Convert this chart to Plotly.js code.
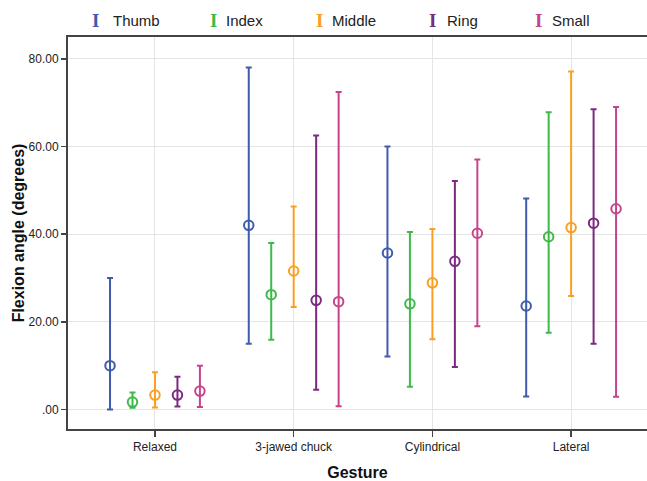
<!DOCTYPE html>
<html>
<head>
<meta charset="utf-8">
<script src="https://cdn.plot.ly/plotly-3.0.1.min.js"></script>
<style>html,body{margin:0;padding:0;background:#fff;}#chart{width:647px;height:481px;}</style>
</head>
<body>
<div id="chart"></div>
<script>
// Categories (gestures) and series (fingers)
const gestures = ['Relaxed', '3-jawed chuck', 'Cylindrical', 'Lateral'];
const fingers = ['Thumb', 'Index', 'Middle', 'Ring', 'Small'];

// Mean flexion angle per finger, per gesture
const thumbMean  = [10.0, 42.0, 35.7, 23.6];
const indexMean  = [1.7, 26.2, 24.1, 39.4];
const middleMean = [3.3, 31.6, 28.9, 41.5];
const ringMean   = [3.3, 24.9, 33.8, 42.5];
const smallMean  = [4.2, 24.6, 40.2, 45.8];

// Lower ends of the error bars
const thumbLow  = [0.0, 15.0, 12.1, 3.0];
const indexLow  = [0.4, 15.9, 5.2, 17.5];
const middleLow = [0.45, 23.4, 16.0, 25.9];
const ringLow   = [0.7, 4.5, 9.7, 15.0];
const smallLow  = [0.6, 0.75, 19.0, 2.9];

// Upper ends of the error bars
const thumbHigh  = [30.0, 78.0, 60.0, 48.1];
const indexHigh  = [3.9, 38.0, 40.5, 67.8];
const middleHigh = [8.5, 46.3, 41.2, 77.1];
const ringHigh   = [7.5, 62.5, 52.1, 68.5];
const smallHigh  = [10.0, 72.4, 57.0, 69.0];

// Y tick labels
const yTickVals = [0, 20, 40, 60, 80];
const yTickLabels = ['.00', '20.00', '40.00', '60.00', '80.00'];

const means = [thumbMean, indexMean, middleMean, ringMean, smallMean];
const lows = [thumbLow, indexLow, middleLow, ringLow, smallLow];
const highs = [thumbHigh, indexHigh, middleHigh, ringHigh, smallHigh];
const colors = ['#3f5bae', '#3dba49', '#fa9f24', '#7a2a82', '#c6448c'];
const step = 0.162;

const traces = fingers.map((f, i) => {
  const m = means[i];
  return {
    type: 'scatter',
    mode: 'markers',
    name: f,
    showlegend: false,
    x: gestures.map((g, j) => j + (i - 2) * step),
    y: m,
    marker: {symbol: 'circle-open', size: 9.5, color: colors[i], line: {width: 2, color: colors[i]}},
    error_y: {
      type: 'data', symmetric: false,
      array: m.map((v, j) => highs[i][j] - v),
      arrayminus: m.map((v, j) => v - lows[i][j]),
      color: colors[i], thickness: 2, width: 3
    },
    hoverinfo: 'x+y'
  };
});

// Legend drawn as text annotations (I-beam glyph + label)
const W = 647, L = 68;
const legendSym = [95, 213, 319, 433, 538];
const legendTxt = [111, 224, 330, 445, 550];
const annotations = [];
fingers.forEach((f, i) => {
  annotations.push({
    xref: 'paper', yref: 'paper', x: (legendSym[i] - L) / (W - L), y: 1.042, yanchor: 'middle',
    xanchor: 'center', showarrow: false, text: '<b>I</b>',
    font: {family: 'Liberation Serif', size: 19, color: colors[i]}
  });
  annotations.push({
    xref: 'paper', yref: 'paper', x: (legendTxt[i] - L) / (W - L), y: 1.041, yanchor: 'middle',
    xanchor: 'left', showarrow: false, text: f,
    font: {family: 'Liberation Sans, Arial', size: 15, color: '#222'}
  });
});

const layout = {
  width: 647, height: 481,
  margin: {l: 68, r: 0, t: 36.5, b: 52},
  paper_bgcolor: '#fff', plot_bgcolor: '#fff',
  showlegend: false,
  font: {family: 'Liberation Sans, Arial', color: '#222'},
  xaxis: {
    range: [-0.627, 3.547],
    tickvals: gestures.map((g, j) => j),
    ticktext: gestures,
    tickfont: {size: 12, color: '#222'},
    showgrid: true, gridcolor: '#e4e4e4', gridwidth: 1,
    zeroline: false,
    showline: true, linecolor: '#444', linewidth: 2, mirror: true,
    ticks: 'outside', ticklen: 6, tickcolor: '#444', tickwidth: 1.5,
    title: {text: '<b>Gesture</b>', font: {size: 16, color: '#111'}, standoff: 14}
  },
  yaxis: {
    range: [-4.44, 84.96],
    tickvals: yTickVals,
    ticktext: yTickLabels,
    tickfont: {size: 12, color: '#222'},
    showgrid: true, gridcolor: '#e4e4e4', gridwidth: 1,
    zeroline: false,
    showline: true, linecolor: '#444', linewidth: 2,
    ticks: 'outside', ticklen: 5, tickcolor: '#444', tickwidth: 1.5,
    title: {text: '<b>Flexion angle (degrees)</b>', font: {size: 16, color: '#111'}, standoff: 0}
  },
  annotations: annotations
};

Plotly.newPlot('chart', traces, layout, {displayModeBar: false, staticPlot: true});
</script>
</body>
</html>
